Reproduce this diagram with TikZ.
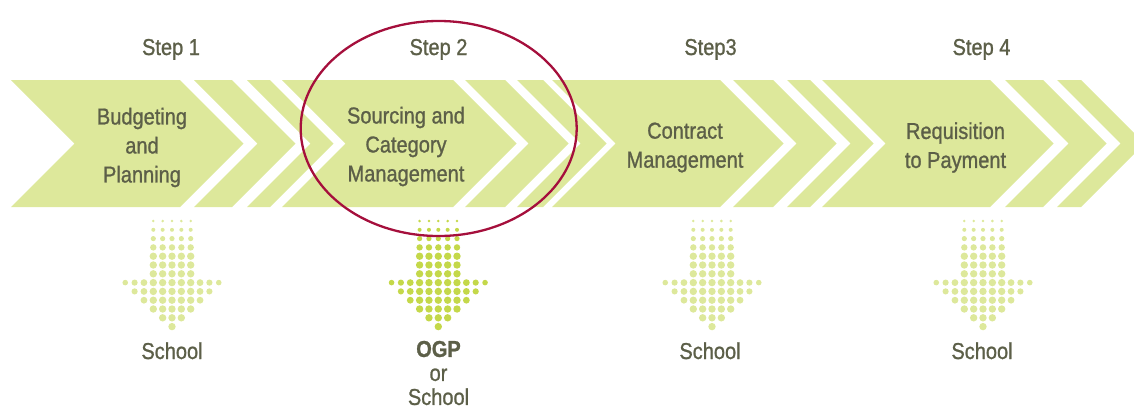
\documentclass[tikz,border=0pt]{standalone}
\usepackage{fontspec}
\setmainfont{Liberation Sans}[FakeStretch=0.87,FakeBold=1]
\definecolor{bandgreen}{HTML}{DDE89B}
\definecolor{dotgreen}{HTML}{C4D84A}
\definecolor{txtgrey}{HTML}{5C5F48}
\definecolor{ringred}{HTML}{A50F3C}
\newcommand{\dotarrow}[2]{% #1 centre x, #2 colour
  \foreach \row in {0,...,6} {% shaft
    \pgfmathsetmacro{\rad}{min(3.7,1.4+0.6*\row)}
    \foreach \col in {-2,...,2}
      \fill[#2] ({#1+(\col)*9.35},{221+\row*8.8}) circle (\rad pt);
  }
  \foreach \row/\w in {7/5,8/4,9/3,10/2,11/1,12/0} {% head
    \pgfmathtruncatemacro{\ndots}{2*\w}
    \foreach \k in {0,...,\ndots} {
      \pgfmathsetmacro{\rad}{3.7-0.3*max(0,abs(\k-\w)-2)}
      \fill[#2] ({#1+(\k-\w)*9.35},{221+\row*8.8}) circle (\rad pt);
    }
  }
}

\begin{document}
\begin{tikzpicture}[x=1pt,y=-1pt,
  band/.style={fill=bandgreen},
  lbl/.style={text=txtgrey,font=\fontsize{23}{29}\selectfont,align=center}]
\clip (0,0) rectangle (1134,408);

\fill[band] (11,80) -- (180,80) -- (243.5,143.5) -- (180,207) -- (11,207) -- (74.5,143.5) -- cycle; %step 1 band
\fill[band] (194,80) -- (232,80) -- (295.5,143.5) -- (232,207) -- (194,207) -- (257.5,143.5) -- cycle;
\fill[band] (247,80) -- (270,80) -- (333.5,143.5) -- (270,207) -- (247,207) -- (310.5,143.5) -- cycle;

\fill[band] (282,80) -- (453,80) -- (516.5,143.5) -- (453,207) -- (282,207) -- (345.5,143.5) -- cycle; %step 2 band
\fill[band] (465,80) -- (505,80) -- (568.5,143.5) -- (505,207) -- (465,207) -- (528.5,143.5) -- cycle;
\fill[band] (517,80) -- (543,80) -- (606.5,143.5) -- (543,207) -- (517,207) -- (580.5,143.5) -- cycle;

\fill[band] (552,80) -- (720,80) -- (783.5,143.5) -- (720,207) -- (552,207) -- (615.5,143.5) -- cycle; %step 3 band
\fill[band] (733,80) -- (773,80) -- (836.5,143.5) -- (773,207) -- (733,207) -- (796.5,143.5) -- cycle;
\fill[band] (787,80) -- (810,80) -- (873.5,143.5) -- (810,207) -- (787,207) -- (850.5,143.5) -- cycle;

\fill[band] (822,80) -- (990,80) -- (1053.5,143.5) -- (990,207) -- (822,207) -- (885.5,143.5) -- cycle; %step 4 band
\fill[band] (1005,80) -- (1043,80) -- (1106.5,143.5) -- (1043,207) -- (1005,207) -- (1068.5,143.5) -- cycle;
\fill[band] (1057,80) -- (1081,80) -- (1144.5,143.5) -- (1081,207) -- (1057,207) -- (1120.5,143.5) -- cycle;

\draw (171,55) node[lbl,anchor=base] (step1) {Step 1}; %step titles
\draw (438.5,55) node[lbl,anchor=base] (step2) {Step 2};
\draw (710.5,55) node[lbl,anchor=base] (step3) {Step3};
\draw (981.5,55) node[lbl,anchor=base] (step4) {Step 4};

\draw (142,147.5) node[lbl] (stage1) {Budgeting\\and\\Planning}; %band texts
\draw (406,146.5) node[lbl] (stage2) {Sourcing and\\Category\\Management};
\draw (685,147.5) node[lbl] (stage3) {Contract\\Management};
\draw (955.5,147.5) node[lbl] (stage4) {Requisition\\to Payment};

\dotarrow{172}{bandgreen} %arrows
\dotarrow{438.3}{dotgreen}
\dotarrow{712}{bandgreen}
\dotarrow{983}{bandgreen}

\draw (172,359) node[lbl,anchor=base] (who1) {School}; %who does it
\draw (438.5,373) node[lbl,font=\fontsize{23}{24}\selectfont] (who2) {\textbf{OGP}\\or\\School};
\draw (710,359) node[lbl,anchor=base] (who3) {School};
\draw (982,359) node[lbl,anchor=base] (who4) {School};

\draw[ringred,line width=2.3pt] (438.7,128.5) ellipse (138pt and 107.5pt); %step 2 ring

\end{tikzpicture}
\end{document}
